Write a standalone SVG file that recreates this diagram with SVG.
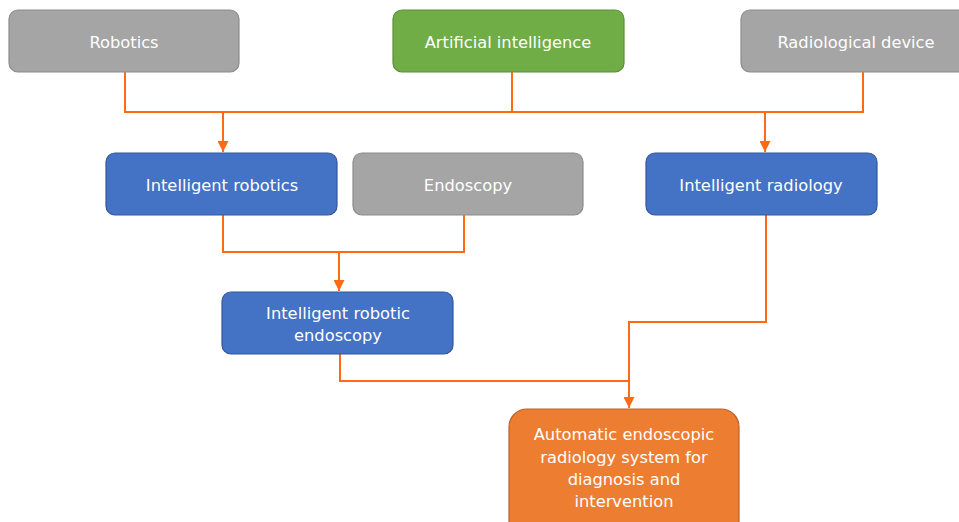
<svg xmlns="http://www.w3.org/2000/svg" width="959" height="522" viewBox="0 0 959 522">
  <defs>
    <marker id="arrow" viewBox="0 0 10 10" refX="10" refY="5" markerWidth="5.5" markerHeight="5.5" orient="auto" markerUnits="strokeWidth">
      <path d="M0,0 L10,5 L0,10 z" fill="#ff6a13"/>
    </marker>
  </defs>
  <style>
    .box { stroke-width: 1.2; }
    .gray { fill: #a5a5a5; stroke: #8c8c8c; }
    .green { fill: #70ad47; stroke: #5a8f38; }
    .blue { fill: #4472c4; stroke: #34589a; }
    .orange { fill: #ed7d31; stroke: #b8622a; }
    .label { font-family: "DejaVu Sans", Verdana, sans-serif; font-size: 16.3px; fill: #ffffff; text-anchor: middle; }
    .conn { fill: none; stroke: #ff6a13; stroke-width: 2; }
  </style>

  <g id="connectors">
    <polyline class="conn" points="125,72 125,112 863,112 863,72"/>
    <line class="conn" x1="512" y1="72" x2="512" y2="112"/>
    <line class="conn" x1="223" y1="112" x2="223" y2="152" marker-end="url(#arrow)"/>
    <line class="conn" x1="765" y1="112" x2="765" y2="152" marker-end="url(#arrow)"/>
    <polyline class="conn" points="223,215 223,252 464,252 464,215"/>
    <line class="conn" x1="339" y1="252" x2="339" y2="291" marker-end="url(#arrow)"/>
    <polyline class="conn" points="766,215 766,322 629,322 629,408" marker-end="url(#arrow)"/>
    <polyline class="conn" points="340,354 340,381 629,381"/>
  </g>

  <g id="robotics">
    <rect class="box gray" x="9" y="10" width="230" height="62" rx="9"/>
    <text class="label" x="124" y="48">Robotics</text>
  </g>
  <g id="artificial-intelligence">
    <rect class="box green" x="393" y="10" width="231" height="62" rx="9"/>
    <text class="label" x="508" y="48">Artificial intelligence</text>
  </g>
  <g id="radiological-device">
    <rect class="box gray" x="741" y="10" width="230" height="62" rx="9"/>
    <text class="label" x="856" y="48">Radiological device</text>
  </g>
  <g id="intelligent-robotics">
    <rect class="box blue" x="106" y="153" width="231" height="62" rx="9"/>
    <text class="label" x="222" y="191">Intelligent robotics</text>
  </g>
  <g id="endoscopy">
    <rect class="box gray" x="353" y="153" width="230" height="62" rx="9"/>
    <text class="label" x="468" y="191">Endoscopy</text>
  </g>
  <g id="intelligent-radiology">
    <rect class="box blue" x="646" y="153" width="231" height="62" rx="9"/>
    <text class="label" x="761" y="191">Intelligent radiology</text>
  </g>
  <g id="intelligent-robotic-endoscopy">
    <rect class="box blue" x="222" y="292" width="231" height="62" rx="9"/>
    <text class="label" x="338" y="319">Intelligent robotic</text>
    <text class="label" x="338" y="341">endoscopy</text>
  </g>
  <g id="automatic-system">
    <rect class="box orange" x="509" y="409" width="230" height="130" rx="18"/>
    <text class="label" x="624" y="440">Automatic endoscopic</text>
    <text class="label" x="624" y="463">radiology system for</text>
    <text class="label" x="624" y="485">diagnosis and</text>
    <text class="label" x="624" y="507">intervention</text>
  </g>
</svg>
